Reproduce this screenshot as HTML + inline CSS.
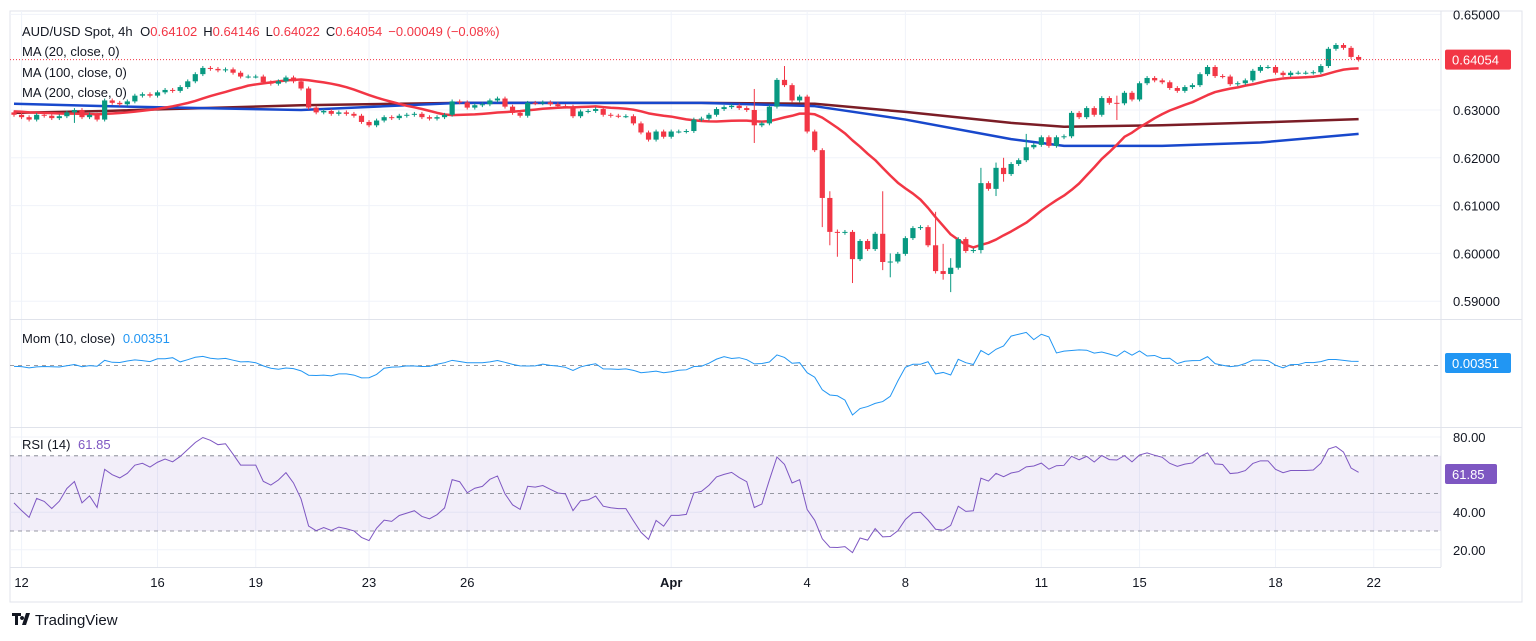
<!DOCTYPE html>
<html><head><meta charset="utf-8"><style>
html,body{margin:0;padding:0;background:#fff;}
svg{display:block;font-family:"Liberation Sans",sans-serif;}
</style></head><body>
<svg id="chart" width="1536" height="641" viewBox="0 0 1536 641" xmlns="http://www.w3.org/2000/svg">
<defs>
<clipPath id="cp"><rect x="10" y="11" width="1431" height="308"/></clipPath>
<clipPath id="cm"><rect x="10" y="320" width="1431" height="107"/></clipPath>
<clipPath id="cr"><rect x="10" y="428" width="1431" height="139"/></clipPath>
</defs>
<rect x="10" y="11" width="1512" height="591" fill="#fff" stroke="#e0e3eb"/>
<g id="grid"></g>
<line x1="1441" y1="11" x2="1441" y2="567" stroke="#e0e3eb"/>
<line x1="10" y1="319.5" x2="1522" y2="319.5" stroke="#e0e3eb"/>
<line x1="10" y1="427.5" x2="1522" y2="427.5" stroke="#e0e3eb"/>
<line x1="10" y1="567.5" x2="1441" y2="567.5" stroke="#e0e3eb"/>
<g id="price" clip-path="url(#cp)"></g>
<g id="mom" clip-path="url(#cm)"></g>
<g id="rsi" clip-path="url(#cr)"></g>
<g id="axes"></g>
<g font-size="13" fill="#131722">
<text x="22" y="36">AUD/USD Spot, 4h <tspan dx="4">O</tspan><tspan fill="#f23645">0.64102</tspan><tspan dx="6">H</tspan><tspan fill="#f23645">0.64146</tspan><tspan dx="6">L</tspan><tspan fill="#f23645">0.64022</tspan><tspan dx="6">C</tspan><tspan fill="#f23645">0.64054</tspan><tspan dx="6" fill="#f23645">−0.00049 (−0.08%)</tspan></text>
<text x="22" y="56">MA (20, close, 0)</text>
<text x="22" y="77">MA (100, close, 0)</text>
<text x="22" y="97">MA (200, close, 0)</text>
<text x="22" y="343">Mom (10, close) <tspan dx="4" fill="#2196f3">0.00351</tspan></text>
<text x="22" y="449">RSI (14) <tspan dx="4" fill="#7e57c2">61.85</tspan></text>
</g>
<g>
<path d="M12 613h9v3h-3v9h-3v-9h-3z M22 616a2 2 0 1 0 0.1 0z M26 613h4l-4 12h-4z" fill="#131722"/>
<text x="35" y="625" font-size="15" fill="#131722">TradingView</text>
</g>
</svg>
<script>
const preCloses=[0.6296,0.6300,0.6306,0.6302,0.6298,0.6294,0.6299,0.6304,0.6300,0.6295,0.6296,0.6293,0.6297,0.6300,0.6295,0.6292,0.6298,0.6296,0.6292,0.6294];
const closes=[0.6290,0.6285,0.6280,0.6290,0.6288,0.6283,0.6287,0.6295,0.6300,0.6285,0.6290,0.6280,0.6320,0.6315,0.6312,0.6318,0.6330,0.6333,0.6330,0.6337,
0.6342,0.6340,0.6348,0.6360,0.6375,0.6388,0.6386,0.6383,0.6385,0.6378,0.6370,0.6370,0.6370,0.6358,0.6355,0.6360,0.6368,0.6360,0.6345,0.6305,
0.6295,0.6298,0.6292,0.6295,0.6292,0.6288,0.6275,0.6268,0.6278,0.6285,0.6283,0.6288,0.6290,0.6292,0.6285,0.6282,0.6285,0.6290,0.6318,0.6316,
0.6305,0.6310,0.6312,0.6320,0.6324,0.6307,0.6294,0.6288,0.6315,0.6314,0.6316,0.6312,0.6308,0.6307,0.6287,0.6297,0.6298,0.6302,0.6290,0.6288,
0.6287,0.6287,0.6272,0.6253,0.6238,0.6255,0.6244,0.6255,0.6255,0.6256,0.6280,0.6282,0.6290,0.6302,0.6306,0.6309,0.6304,0.6300,0.6268,0.6272,
0.6307,0.6363,0.6352,0.6320,0.6328,0.6255,0.6216,0.6116,0.6045,0.6043,0.6045,0.5988,0.6026,0.6009,0.6041,0.5982,0.5983,0.5999,0.6032,0.6053,
0.6055,0.6017,0.5963,0.5957,0.5970,0.6030,0.6005,0.6007,0.6147,0.6135,0.6179,0.6166,0.6187,0.6195,0.6222,0.6227,0.6243,0.6225,0.6243,0.6245,
0.6294,0.6285,0.6304,0.6290,0.6325,0.6315,0.6314,0.6336,0.6322,0.6356,0.6367,0.6362,0.6358,0.6346,0.6340,0.6348,0.6352,0.6375,0.6390,0.6371,
0.6370,0.6354,0.6356,0.6362,0.6382,0.6390,0.6390,0.6378,0.6373,0.6378,0.6378,0.6378,0.6379,0.6392,0.6428,0.6436,0.6430,0.6411,0.64054];
const firstOpen=0.6295;
const wickBars=[8,98,102,107,108,109,111,115,116,122,123,124,128,130,131,134,146];
const wickHigh=[0.6300,0.6344,0.6392,0.6216,0.6130,0.6050,0.6045,0.6130,0.6000,0.6087,0.6020,0.5990,0.6179,0.6190,0.6200,0.6250,0.6330];
const wickLow=[0.6273,0.6231,0.6350,0.6055,0.6017,0.5993,0.5938,0.5965,0.5950,0.5958,0.5945,0.5919,0.6000,0.6120,0.6150,0.6205,0.6279];
const maKeys=[0,12,38,59,91,106,118,132,139,152,165,178];
const ma100=[0.6313,0.6308,0.6300,0.6315,0.6315,0.6308,0.6280,0.6239,0.6225,0.6225,0.6232,0.6250];
const ma200=[0.6294,0.6298,0.6310,0.6315,0.6315,0.6313,0.6296,0.6273,0.6265,0.6268,0.6274,0.6281];
const priceTicks=[0.65,0.63,0.62,0.61,0.60,0.59];
const priceTickLabels=["0.65000","0.63000","0.62000","0.61000","0.60000","0.59000"];
const rsiTicks=[80,40,20];
const rsiTickLabels=["80.00","40.00","20.00"];
const dateBars=[1,19,32,47,60,87,105,118,136,149,167,180];
const dateLabels=["12","16","19","23","26","Apr","4","8","11","15","18","22"];

const NS="http://www.w3.org/2000/svg";
const xb=i=>14+i*7.554;
const yp=p=>110+(0.63-p)*4780;
const ym=v=>365.6-v*1317;
const yr=v=>437+(80-v)*1.88;
function mk(tag,attrs,parent){const e=document.createElementNS(NS,tag);for(const k in attrs)e.setAttribute(k,attrs[k]);parent.appendChild(e);return e;}
const G=id=>document.getElementById(id);
const grid=G('grid'),price=G('price'),mom=G('mom'),rsi=G('rsi'),axes=G('axes');
const all=preCloses.concat(closes);const P=preCloses.length;

priceTicks.forEach(t=>{const l=mk('line',{x1:10,x2:1441,y1:yp(t),y2:yp(t),stroke:'#f0f3fa'},grid);

});
dateBars.forEach(b=>{const l=mk('line',{x1:xb(b),x2:xb(b),y1:11,y2:567,stroke:'#f0f3fa'},grid);

});
[80,40,20].forEach(t=>{const l=mk('line',{x1:10,x2:1441,y1:yr(t),y2:yr(t),stroke:'#f0f3fa'},grid);

});

function maLine(vals,color,name){const pts=maKeys.map((k,j)=>xb(k)+','+yp(vals[j])).join(' ');
const l=mk('polyline',{points:pts,fill:'none',stroke:color,'stroke-width':2.5,'stroke-linejoin':'round'},price);

}
maLine(ma200,'#7b1d26','ma200-line');
maLine(ma100,'#1848cc','ma100-line');
const ma20=closes.map((c,i)=>{const j=i+P;const s=all.slice(j-19,j+1);return s.reduce((a,b)=>a+b,0)/s.length;});
const ma20l=mk('polyline',{points:ma20.map((v,i)=>xb(i)+','+yp(v)).join(' '),fill:'none',stroke:'#f23645','stroke-width':2.5,'stroke-linejoin':'round'},price);



closes.forEach((c,i)=>{
 const o=i?closes[i-1]:firstOpen;const up=c>=o;const col=up?'#089981':'#f23645';
 let hi=Math.max(o,c)+0.0004,lo=Math.min(o,c)-0.0004;
 const w=wickBars.indexOf(i);if(w>=0){hi=Math.max(hi,wickHigh[w]);lo=Math.min(lo,wickLow[w]);}
 const x=xb(i);
 const wk=mk('line',{x1:x,x2:x,y1:yp(hi),y2:yp(lo),stroke:col,'stroke-width':1},price);
 
 
 const y1=yp(Math.max(o,c)),y2=yp(Math.min(o,c));
 const b=mk('rect',{x:x-2.6,y:y1,width:5.2,height:Math.max(1,y2-y1),fill:col},price);
 
 
});
const lp=closes[closes.length-1];
const lpl=mk('line',{x1:10,x2:1441,y1:yp(lp),y2:yp(lp),stroke:'#f23645','stroke-dasharray':'1 2'},price);



const momV=closes.map((c,i)=>c-all[i+P-10]);
const zl=mk('line',{x1:10,x2:1441,y1:ym(0),y2:ym(0),stroke:'#787b86','stroke-dasharray':'4 4','stroke-width':0.8},mom);


const ml=mk('polyline',{points:momV.map((v,i)=>xb(i)+','+ym(v)).join(' '),fill:'none',stroke:'#2196f3','stroke-width':1},mom);



const rsiAll=[];let ag=0,al=0;
all.forEach((c,i)=>{if(!i){rsiAll.push(50);return;}const d=c-all[i-1];const g=Math.max(d,0),l=Math.max(-d,0);
 if(i<=14){ag+=g/14;al+=l/14;}else{ag=(ag*13+g)/14;al=(al*13+l)/14;}
 rsiAll.push(al===0?100:100-100/(1+ag/al));});
const rsiV=rsiAll.slice(P);
const band=mk('rect',{x:10,y:yr(70),width:1431,height:yr(30)-yr(70),fill:'rgba(126,87,194,0.1)'},rsi);


[70,50,30].forEach(t=>{const l=mk('line',{x1:10,x2:1441,y1:yr(t),y2:yr(t),stroke:'#787b86','stroke-dasharray':'4 4','stroke-width':0.8},rsi);

});
const rl=mk('polyline',{points:rsiV.map((v,i)=>xb(i)+','+yr(v)).join(' '),fill:'none',stroke:'#7e57c2','stroke-width':1},rsi);



priceTicks.forEach((t,j)=>{const e=mk('text',{x:1453,y:yp(t)+5,'font-size':13,fill:'#131722'},axes);e.textContent=priceTickLabels[j];

});
rsiTicks.forEach((t,j)=>{const e=mk('text',{x:1453,y:yr(t)+5,'font-size':13,fill:'#131722'},axes);e.textContent=rsiTickLabels[j];

});
dateBars.forEach((b,j)=>{const e=mk('text',{x:xb(b),y:587,'font-size':13,fill:'#131722','text-anchor':'middle','font-weight':dateLabels[j]==='Apr'?'bold':'normal'},axes);e.textContent=dateLabels[j];

});
function badge(y,col,txt,name){const r=mk('rect',{x:1445,y:y-10,width:66,height:20,rx:2,fill:col},axes);


const t=mk('text',{x:1452,y:y+5,'font-size':13,fill:'#fff'},axes);t.textContent=txt;

}
badge(yp(lp),'#f23645','0.64054','last-price-badge');
badge(363,'#2196f3','0.00351','mom-value-badge');
const rb=mk('rect',{x:1445,y:464,width:52,height:20,rx:2,fill:'#7e57c2'},axes);


const rt=mk('text',{x:1452,y:479,'font-size':13,fill:'#fff'},axes);rt.textContent='61.85';


</script>
</body></html>
